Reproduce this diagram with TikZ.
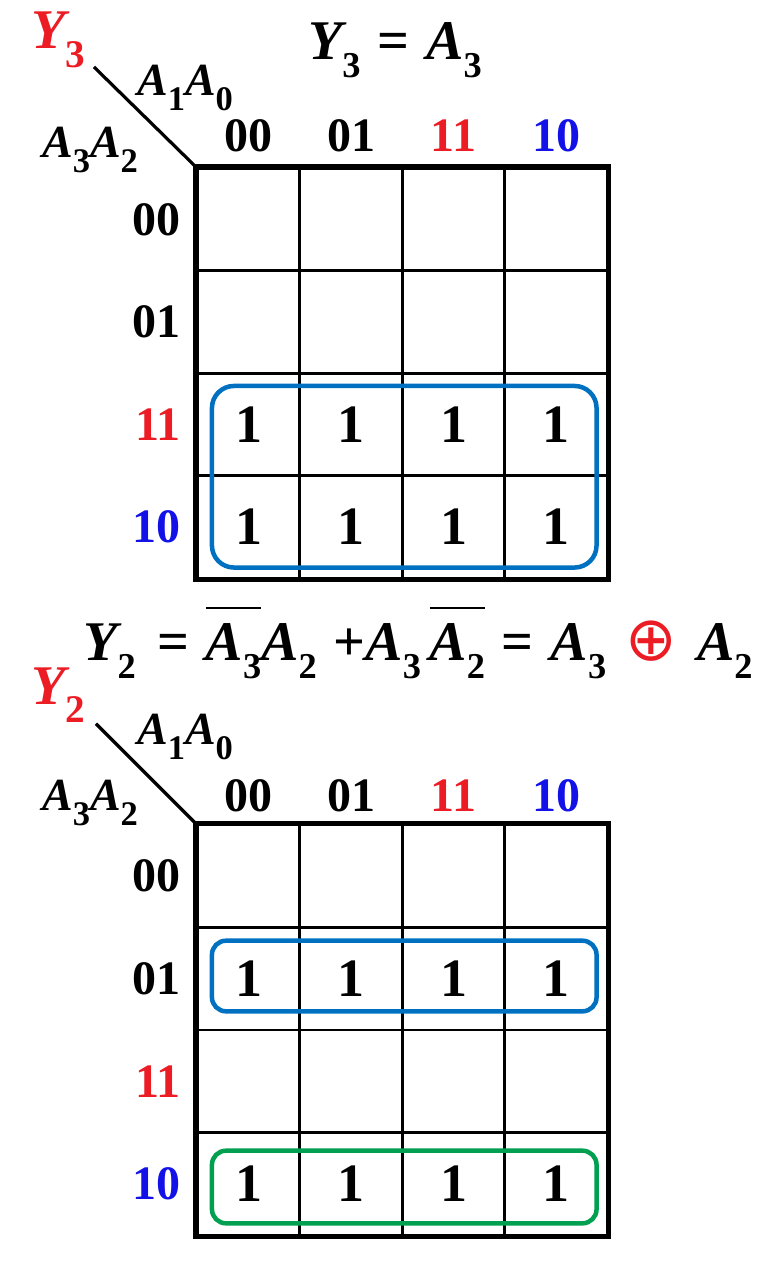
\documentclass[tikz,border=0pt]{standalone}
\usepackage{fontspec}
\setmainfont{Liberation Serif}
\newfontfamily\symfont{DejaVu Sans}
\usepackage{graphicx}
\usepackage{tikz}
\usetikzlibrary{positioning,fit}
\definecolor{kred}{RGB}{236,28,36}
\definecolor{kblue}{RGB}{18,18,232}
\definecolor{loopblue}{RGB}{0,112,192}
\definecolor{loopgreen}{RGB}{0,160,80}
\def \cw {102.5pt}
\def \subsc {0.75}
\tikzstyle{cell} = [draw,line width=2.6pt,rectangle,inner sep=0,minimum size=\cw]
\tikzstyle{contour} = [draw,line width=5.5pt,rectangle,inner sep=0]
\tikzstyle{hdr} = [inner sep=0,font=\fontsize{48}{50}\selectfont\bfseries]
\tikzstyle{one} = [inner sep=0,font=\fontsize{54}{56}\selectfont\bfseries]
\tikzstyle{var} = [inner sep=0,font=\fontsize{46}{50}\selectfont\bfseries]
\tikzstyle{outp} = [inner sep=0,font=\fontsize{56}{60}\selectfont\bfseries\def\subsc{0.7}]
\tikzstyle{formula} = [inner sep=0,font=\fontsize{56}{60}\selectfont\bfseries\def\subsc{0.65}]
\tikzstyle{index} = [-,line width=3.2pt]
\tikzstyle{group} = [line width=4.5pt,rounded corners=22pt]
\newcommand{\vsub}[2]{{\itshape #1}\raisebox{-0.33em}{\scalebox{\subsc}{\upshape #2}}}
\newcommand{\ovl}[1]{\vbox{\hrule height 2pt\kern 14pt\hbox{#1}}}

\begin{document}
\begin{tikzpicture}[x=1pt,y=-1pt]
  \useasboundingbox (0,0) rectangle (773,1279);
  % map of Y3
  \foreach \r in {0,...,3}
    \foreach \c in {0,...,3}
      \node[cell] (t\r\c) at ({248.5+102.5*\c},{219.5+102.5*\r}) {};
  \node[contour,fit=(t00)(t33)] (tbox) {};
  \foreach \c/\txt/\col in {0/00/black,1/01/black,2/11/kred,3/10/kblue}
    \node[hdr,text=\col,above=15pt of t0\c] (tc\c) {\txt};
  \foreach \r/\txt/\col in {0/00/black,1/01/black,2/11/kred,3/10/kblue}
    \node[hdr,text=\col,left=15pt of t\r0] (tr\r) {\txt};
  \foreach \c in {0,...,3} {
    \node[one] (tp2\c) at (t2\c) {1};
    \node[one] (tp3\c) at (t3\c) {1};
  }
  \draw[group,loopblue] ([shift={(16,14)}]t20.north west) rectangle ([shift={(-12,-12)}]t33.south east);
  \coordinate (td) at ([shift={(-102,-100)}]t00.north west);
  \draw[index] (t00.north west) -- (td);
  \node[outp,text=kred] (ty) at (58,40) {\vsub{Y}{3}};
  \node[var] (tcol) at (185,88) {\vsub{A}{1}\vsub{A}{0}};
  \node[var] (trow) at (90,150) {\vsub{A}{3}\vsub{A}{2}};
  \node[formula] (teq) at (395,50) {\vsub{Y}{3}\hspace{0.3em}=\hspace{0.3em}\vsub{A}{3}};

  % map of Y2
  \node[formula] (beq) at (418,643) {\vsub{Y}{2}\hspace{0.38em}=\hspace{0.3em}\ovl{\vsub{A}{3}}\vsub{A}{2}\hspace{0.3em}+\vsub{A}{3}\hspace{0.15em}\ovl{\vsub{A}{2}}\hspace{0.3em}=\hspace{0.3em}\vsub{A}{3}\hspace{0.35em}{\color{kred}\symfont\mdseries\scalebox{1.1}{⊕}}\hspace{0.35em}\vsub{A}{2}};
  \foreach \r in {0,...,3}
    \foreach \c in {0,...,3}
      \node[cell] (b\r\c) at ({248.5+102.5*\c},{876.25+102.5*\r}) {};
  \node[contour,fit=(b00)(b33)] (bbox) {};
  \foreach \c/\txt/\col in {0/00/black,1/01/black,2/11/kred,3/10/kblue}
    \node[hdr,text=\col,above=12pt of b0\c] (bc\c) {\txt};
  \foreach \r/\txt/\col in {0/00/black,1/01/black,2/11/kred,3/10/kblue}
    \node[hdr,text=\col,left=15pt of b\r0] (br\r) {\txt};
  \foreach \c in {0,...,3} {
    \node[one] (bp1\c) at (b1\c) {1};
    \node[one] (bp3\c) at (b3\c) {1};
  }
  \draw[group,loopblue,rounded corners=14pt] ([shift={(16,14.5)}]b10.north west) rectangle ([shift={(-12,-20)}]b13.south east);
  \draw[group,loopgreen,rounded corners=14pt] ([shift={(16,19.5)}]b30.north west) rectangle ([shift={(-12,-13)}]b33.south east);
  \coordinate (bd) at ([shift={(-100,-100)}]b00.north west);
  \draw[index] (b00.north west) -- (bd);
  \node[outp,text=kred] (by) at (58,695) {\vsub{Y}{2}};
  \node[var] (bcol) at (185,737) {\vsub{A}{1}\vsub{A}{0}};
  \node[var] (brow) at (90,803) {\vsub{A}{3}\vsub{A}{2}};
\end{tikzpicture}
\end{document}
